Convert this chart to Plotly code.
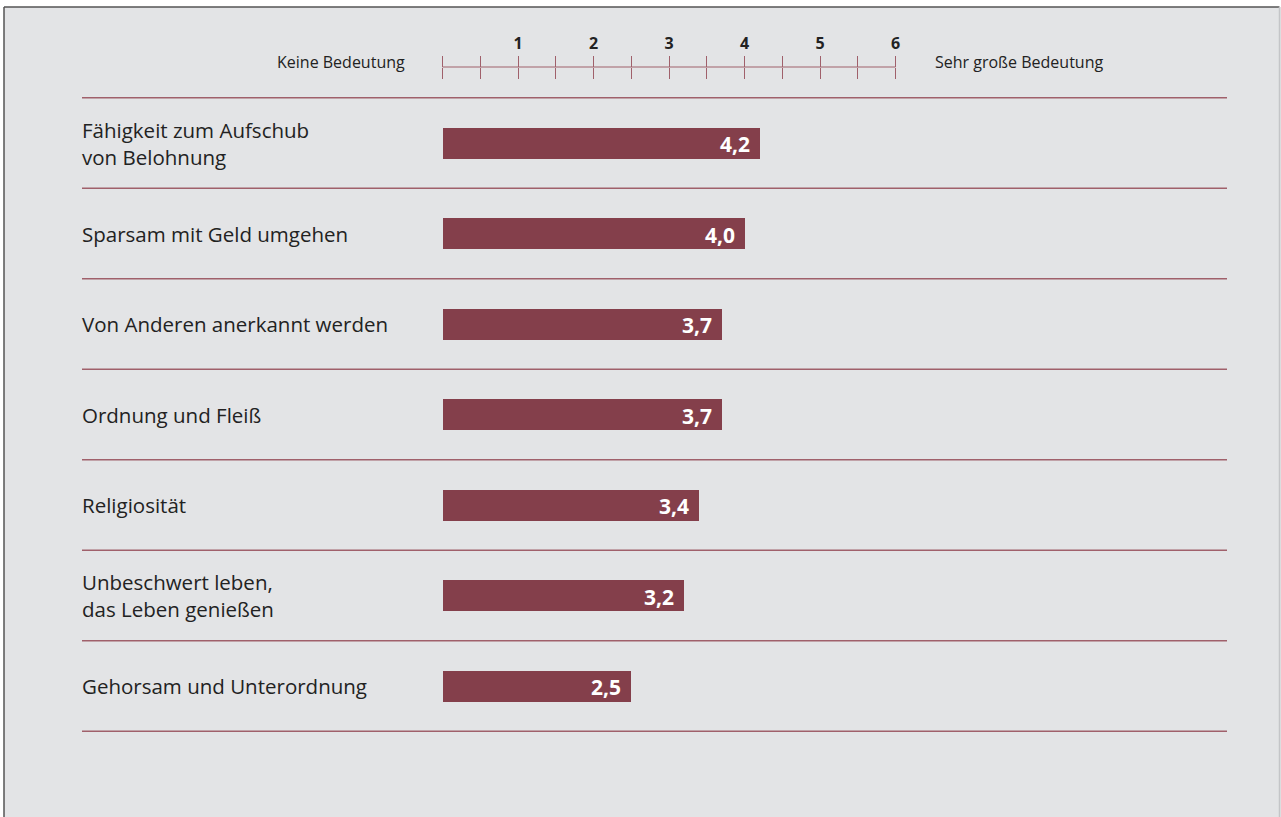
import plotly.graph_objects as go

# Survey items (top to bottom) and mean importance ratings
items = [
    "Fähigkeit zum Aufschub<br>von Belohnung",
    "Sparsam mit Geld umgehen",
    "Von Anderen anerkannt werden",
    "Ordnung und Fleiß",
    "Religiosität",
    "Unbeschwert leben,<br>das Leben genießen",
    "Gehorsam und Unterordnung",
]
ratings = [4.2, 4.0, 3.7, 3.7, 3.4, 3.2, 2.5]

scale_ticks = [0, 0.5, 1, 1.5, 2, 2.5, 3, 3.5, 4, 4.5, 5, 5.5, 6]
scale_labels = ["", "", "1", "", "2", "", "3", "", "4", "", "5", "", "6"]
scale_low = "Keine Bedeutung"
scale_high = "Sehr große Bedeutung"

W, H = 1281, 817
BAR = "#843f4b"
RULE = "#a0606b"
BG = "#e3e4e6"
INK = "#222222"
FONT = "Open Sans"

# axis geometry: value 0 sits at x=442.5 px, one unit is 75.5 px
x0_px, unit_px = 442.5, 75.5
x_range = [-x0_px / unit_px, (W - x0_px) / unit_px]
# rows: first centre at y=143 px, spaced 90.5 px
row0_px, row_px = 143, 90.5
y_range = [(H - row0_px) / row_px, -row0_px / row_px]
n = len(items)
rows = list(range(n))
scale_y_px = 67
scale_pos = 1 - scale_y_px / H

fig = go.Figure()
fig.add_trace(go.Bar(
    x=ratings, y=rows, orientation="h", base=0,
    width=31 / row_px, marker=dict(color=BAR, line=dict(width=0)),
    hoverinfo="skip", showlegend=False,
))
# invisible trace to activate the lower half of the scale ticks
fig.add_trace(go.Scatter(x=[0, 6], y=[0, 0], xaxis="x2", mode="markers",
                         marker=dict(opacity=0), hoverinfo="skip", showlegend=False))

annotations = []
for i, (lab, v) in enumerate(zip(items, ratings)):
    annotations.append(dict(
        x=v, y=i, xref="x", yref="y", text=f"<b>{v:.1f}</b>".replace(".", ","),
        xanchor="right", yanchor="middle", xshift=-8, yshift=-1, showarrow=False,
        font=dict(family=FONT, size=21, color="white"),
    ))
    annotations.append(dict(
        x=80 / W, y=i, xref="paper", yref="y", text=lab, align="left",
        xanchor="left", yanchor="middle", showarrow=False,
        font=dict(family=FONT, size=20.5, color=INK),
    ))
annotations.append(dict(x=407 / W, y=1 - 62 / H, xref="paper", yref="paper",
                        text=scale_low, xanchor="right", yanchor="middle",
                        showarrow=False, font=dict(family=FONT, size=16, color=INK)))
annotations.append(dict(x=933 / W, y=1 - 62 / H, xref="paper", yref="paper",
                        text=scale_high, xanchor="left", yanchor="middle",
                        showarrow=False, font=dict(family=FONT, size=16, color=INK)))

shapes = [
    # panel background and frame
    dict(type="rect", xref="paper", yref="paper", x0=4 / W, x1=1, y0=0, y1=1 - 7 / H,
         fillcolor=BG, line=dict(width=0), layer="below"),
    dict(type="line", xref="paper", yref="paper", x0=4 / W, x1=4 / W, y0=0, y1=1 - 7 / H,
         line=dict(color="#555555", width=1.5)),
    dict(type="line", xref="paper", yref="paper", x0=4 / W, x1=1279.5 / W,
         y0=1 - 7 / H, y1=1 - 7 / H, line=dict(color="#555555", width=1.5)),
    dict(type="line", xref="paper", yref="paper", x0=1279.5 / W, x1=1279.5 / W,
         y0=0, y1=1 - 7 / H, line=dict(color="#c4c5c8", width=1.5)),
]
# row separators
for k in range(n + 1):
    shapes.append(dict(type="line", xref="paper", yref="y", x0=82 / W, x1=1227 / W,
                       y0=k - 0.5, y1=k - 0.5, line=dict(color=RULE, width=1.6)))

common = dict(range=x_range, tickvals=scale_ticks, showgrid=False, zeroline=False,
              showline=False, ticks="outside", ticklen=11, tickwidth=1.2, tickcolor=RULE,
              anchor="free", position=scale_pos, fixedrange=True)

fig.update_layout(
    width=W, height=H, margin=dict(l=0, r=0, t=0, b=0),
    paper_bgcolor="white", plot_bgcolor="rgba(0,0,0,0)",
    bargap=0, showlegend=False,
    xaxis=dict(**common, side="top", ticktext=scale_labels, ticklabelstandoff=1,
               tickfont=dict(family=FONT, size=16, color=INK, weight="bold")),
    xaxis2=dict(**common, side="bottom", overlaying="x", showticklabels=False),
    yaxis=dict(range=y_range, visible=False, fixedrange=True),
    annotations=annotations, shapes=shapes,
)
# scale baseline
fig.add_shape(type="line", xref="x", yref="paper", x0=0, x1=6,
              y0=scale_pos, y1=scale_pos, line=dict(color=RULE, width=1.2))

fig.write_html("out.html")
